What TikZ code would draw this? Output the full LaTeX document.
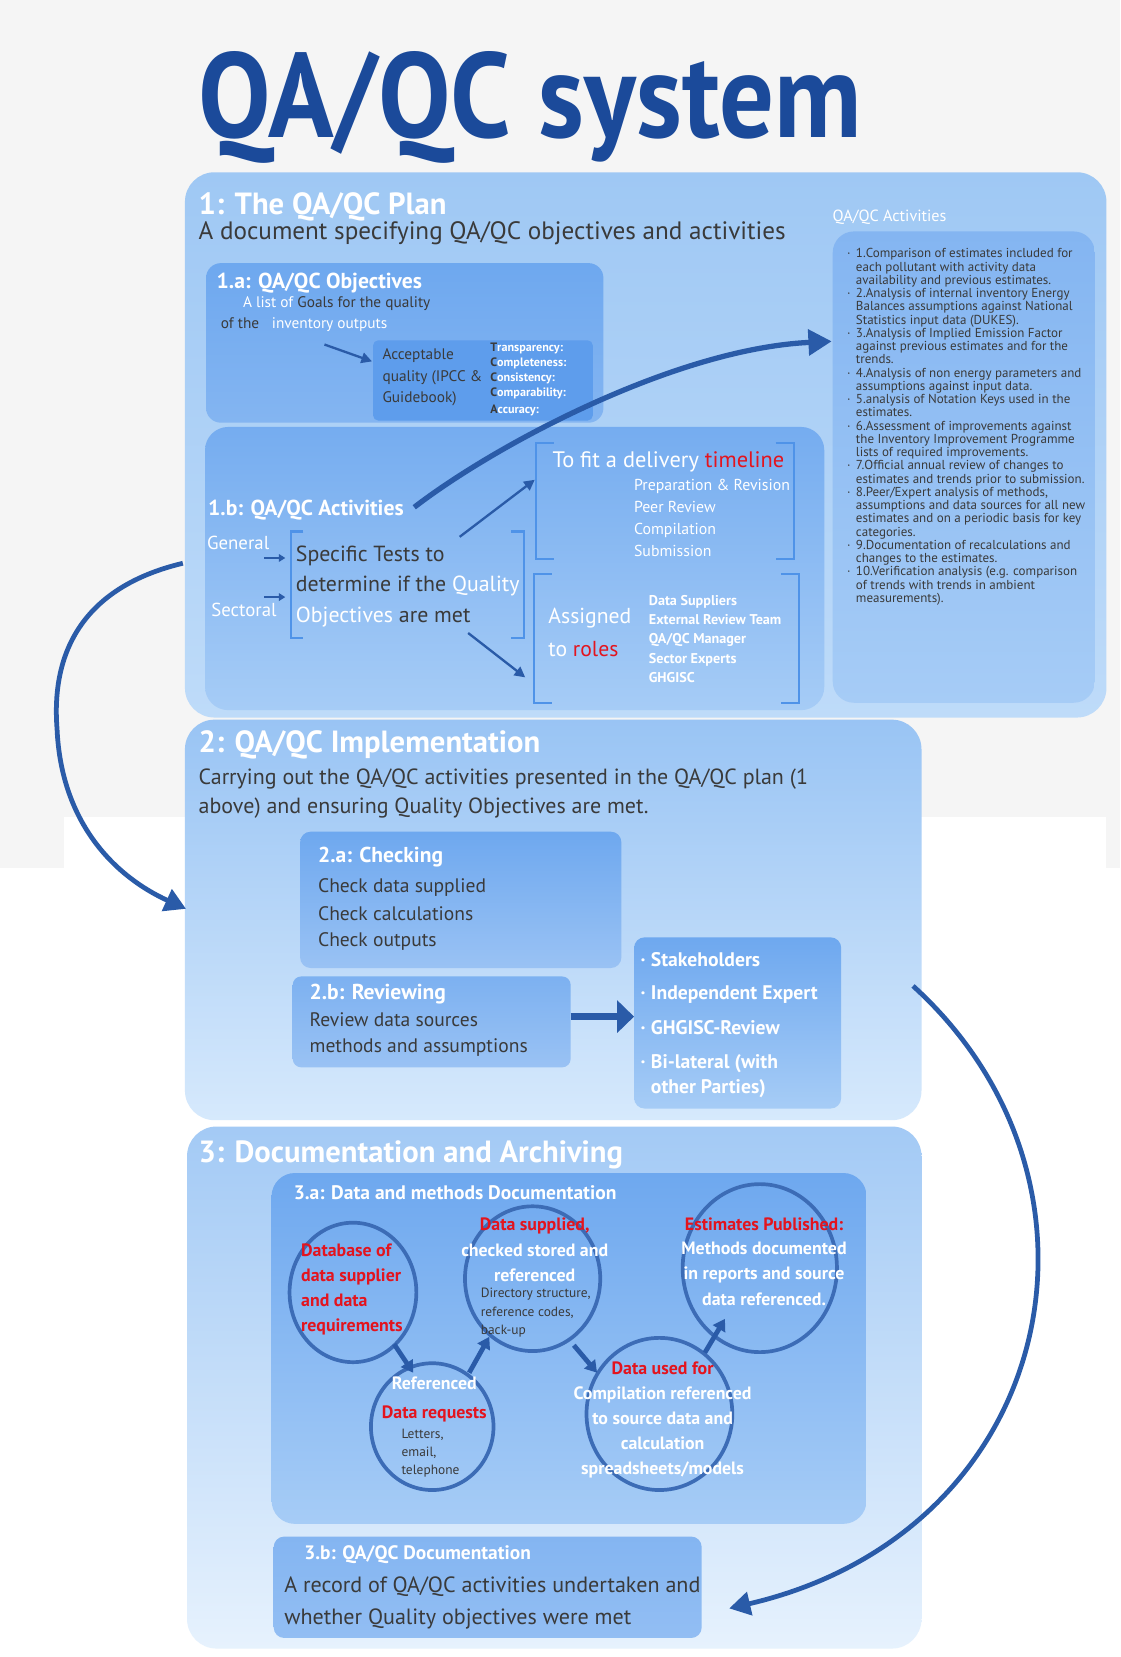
\documentclass[tikz,border=0pt]{standalone}
\usepackage{fontspec}
\setmainfont{PT Sans}
\newfontfamily\titlef{PT Sans}[FakeStretch=0.9]
\usetikzlibrary{arrows.meta,shapes.geometric,calc}
\newcommand\fsz[1]{\fontsize{#1}{#1}\selectfont}
\newcommand\bul{\makebox[0pt][r]{\textperiodcentered\hspace{5pt}}}
\definecolor{bggrey}{HTML}{F5F5F5}
\definecolor{ttl}{HTML}{1B4A9A}
\definecolor{dk}{HTML}{3A3A3A}
\definecolor{rd}{HTML}{E3141E}
\definecolor{arr}{HTML}{2A5BA8}
\definecolor{brkc}{HTML}{4F93E8}
\definecolor{circ}{HTML}{3C6CB6}
\definecolor{panA}{HTML}{9FC8F4}
\definecolor{panB}{HTML}{BEDBF9}
\definecolor{panC}{HTML}{99C4F4}
\definecolor{panD}{HTML}{D6E9FC}
\definecolor{boxA}{HTML}{6EA8EF}
\definecolor{boxB}{HTML}{A6CCF6}
\definecolor{innr}{HTML}{5E9DEC}
\begin{document}
\begin{tikzpicture}[x=1pt,y=-1pt,
  txt/.style={anchor=base west,inner sep=0pt,outer sep=0pt},
  ctx/.style={anchor=base,inner sep=0pt,outer sep=0pt},
  box/.style={rectangle,inner sep=0pt,outer sep=0pt,anchor=north west},
  wt/.style={text=white},
  dt/.style={text=dk},
  brk/.style={draw=brkc,line width=2pt},
  thinarr/.style={draw=arr,line width=2.2pt,-{Triangle[length=10pt,width=10pt]}},
  bigarr/.style={draw=arr,line width=4.5pt,-{Triangle[length=20pt,width=22pt]}},
  circarr/.style={draw=arr,line width=4.5pt,-{Triangle[length=11pt,width=13pt]}},
  ring/.style={ellipse,draw=circ,line width=3.5pt,inner sep=0pt}]
\useasboundingbox (0,0) rectangle (1060,1568);
\fill[white] (0,0) rectangle (1060,1568);
\fill[bggrey] (0,0) rectangle (1060,773);
\fill[bggrey] (0,773) rectangle (61,821);
\fill[bggrey] (1047,773) rectangle (1060,821);

% title
\node[txt,text=ttl] (title) at (188,130) {\titlef\bfseries\fsz{114}QA/QC system};

% panels
\node[box,minimum width=872pt,minimum height=516pt,rounded corners=28pt,top color=panA,bottom color=panB] (p1) at (175,163) {};
\node[box,minimum width=697pt,minimum height=379pt,rounded corners=28pt,top color=panC,bottom color=panD] (p2) at (175,681) {};
\node[box,minimum width=695pt,minimum height=494pt,rounded corners=28pt,top color=panC!90!white,bottom color=panD!60!white] (p3) at (177,1066) {};

% section 1
\node[txt,wt] (h1) at (188,203) {\bfseries\fsz{29}1: The QA/QC Plan};
\node[txt,dt] (s1) at (188,227) {\fsz{23.8}A document specifying QA/QC objectives and activities};
\node[txt,wt] (actlbl) at (788,210) {\fsz{15.3}QA/QC Activities};

\node[box,minimum width=376pt,minimum height=151pt,rounded corners=14pt,top color=boxA,bottom color=boxA!85!white] (b1a) at (195,249) {};
\node[box,minimum width=208pt,minimum height=76pt,rounded corners=5pt,fill=innr] (inner) at (353,322) {};
\node[box,minimum width=586pt,minimum height=268pt,rounded corners=22pt,top color=boxA!95!white,bottom color=boxB] (b1b) at (194,404) {};
\node[box,minimum width=248pt,minimum height=446pt,rounded corners=20pt,top color=boxA!85!white,bottom color=boxB] (act) at (788,219) {};

% 1.a content
\node[txt,wt] (h1a) at (205,273) {\bfseries\fsz{20.5}1.a: QA/QC Objectives};
\node[txt] (goal1) at (230,291) {\fsz{14.5}\textcolor{white}{A list of} \textcolor{dk}{Goals for the quality}};
\node[txt] (goal2) at (209,311) {\fsz{14.5}\textcolor{dk}{of the}\hspace{12pt}\textcolor{white}{inventory outputs}};
\node[txt,dt] (acc1) at (362,340) {\fsz{14.5}Acceptable};
\node[txt,dt] (acc2) at (362,361) {\fsz{14.5}quality (IPCC \&};
\node[txt,dt] (acc3) at (362,381) {\fsz{14.5}Guidebook)};
\node[txt,wt] (q1) at (464,333) {\bfseries\fsz{11.5}\textcolor{dk}{T}ransparency:};
\node[txt,wt] (q2) at (464,347) {\bfseries\fsz{11.5}\textcolor{dk}{C}ompleteness:};
\node[txt,wt] (q3) at (464,361) {\bfseries\fsz{11.5}\textcolor{dk}{C}onsistency:};
\node[txt,wt] (q4) at (464,375) {\bfseries\fsz{11.5}\textcolor{dk}{C}omparability:};
\node[txt,wt] (q5) at (464,391) {\bfseries\fsz{11.5}\textcolor{dk}{A}ccuracy:};
\coordinate (ga) at (307,326);
\coordinate (gb) at (352,342);
\draw[thinarr] (ga) -- (gb);

% 1.b content
\node[txt,wt] (h1b) at (197,488) {\bfseries\fsz{20.5}1.b: QA/QC Activities};
\node[txt,wt] (gen) at (196,520) {\fsz{17.8}General};
\node[txt,wt] (sec) at (200,583) {\fsz{17.8}Sectoral};
\coordinate (g1) at (250,528); \coordinate (g2) at (270,528);
\coordinate (s1a) at (250,565); \coordinate (s1b) at (270,565);
\draw[draw=arr,line width=1.8pt,-{Triangle[length=6pt,width=7pt]}] (g1) -- (g2);
\draw[draw=arr,line width=1.8pt,-{Triangle[length=6pt,width=7pt]}] (s1a) -- (s1b);
\draw[brk] (287,503) -- (275,503) -- (275,604) -- (287,604);
\draw[brk] (484,503) -- (496,503) -- (496,604) -- (484,604);
\node[txt,dt] (sp1) at (280,531) {\fsz{20.7}Specific Tests to};
\node[txt,dt] (sp2) at (280,560) {\fsz{20.7}determine if the \textcolor{white}{Quality}};
\node[txt,dt] (sp3) at (280,589) {\fsz{20.7}\textcolor{white}{Objectives} are met};
\draw[brk] (524,419) -- (507,419) -- (507,529) -- (524,529);
\draw[brk] (734,419) -- (751,419) -- (751,529) -- (734,529);
\draw[brk] (522,543) -- (505,543) -- (505,665) -- (522,665);
\draw[brk] (739,543) -- (756,543) -- (756,665) -- (739,665);
\node[txt,wt] (tl) at (523,442) {\fsz{21.2}To fit a delivery \textcolor{rd}{timeline}};
\node[txt,wt] (tl1) at (600,464) {\fsz{15}Preparation \& Revision};
\node[txt,wt] (tl2) at (600,485) {\fsz{15}Peer Review};
\node[txt,wt] (tl3) at (600,506) {\fsz{15}Compilation};
\node[txt,wt] (tl4) at (600,527) {\fsz{15}Submission};
\node[txt,wt] (as1) at (519,590) {\fsz{20.5}Assigned};
\node[txt,wt] (as2) at (519,621) {\fsz{20.5}to \textcolor{rd}{roles}};
\node[txt,wt] (r1) at (614,573) {\bfseries\fsz{13.4}Data Suppliers};
\node[txt,wt] (r2) at (614,591) {\bfseries\fsz{13.4}External Review Team};
\node[txt,wt] (r3) at (614,609) {\bfseries\fsz{13.4}QA/QC Manager};
\node[txt,wt] (r4) at (614,628) {\bfseries\fsz{13.4}Sector Experts};
\node[txt,wt] (r5) at (614,646) {\bfseries\fsz{13.4}GHGISC};
\coordinate (u1) at (435,508); \coordinate (u2) at (506,454);
\coordinate (d1) at (443,599); \coordinate (d2) at (497,641);
\draw[thinarr] (u1) -- (u2);
\draw[thinarr] (d1) -- (d2);

% activities list
\foreach \t [count=\i from 0] in {
 {\bul 1.Comparison of estimates included for},
 {each pollutant with activity data},
 {availability and previous estimates.},
 {\bul 2.Analysis of internal inventory Energy},
 {Balances assumptions against National},
 {Statistics input data (DUKES).},
 {\bul 3.Analysis of Implied Emission Factor},
 {against previous estimates and for the},
 {trends.},
 {\bul 4.Analysis of non energy parameters and},
 {assumptions against input data.},
 {\bul 5.analysis of Notation Keys used in the},
 {estimates.},
 {\bul 6.Assessment of improvements against},
 {the Inventory Improvement Programme},
 {lists of required improvements.},
 {\bul 7.Official annual review of changes to},
 {estimates and trends prior to submission.},
 {\bul 8.Peer/Expert analysis of methods,},
 {assumptions and data sources for all new},
 {estimates and on a periodic basis for key},
 {categories.},
 {\bul 9.Documentation of recalculations and},
 {changes to the estimates.},
 {\bul 10.Verification analysis (e.g. comparison},
 {of trends with trends in ambient},
 {measurements).}}
 \node[txt,dt] (al\i) at (810,244+12.54*\i) {\fsz{12.3}\t};

% section 2
\node[txt,wt] (h2) at (188,712) {\bfseries\fsz{29}2: QA/QC Implementation};
\node[txt,dt] (s2a) at (188,742) {\fsz{20.8}Carrying out the QA/QC activities presented in the QA/QC plan (1};
\node[txt,dt] (s2b) at (188,770) {\fsz{20.8}above) and ensuring Quality Objectives are met.};
\node[box,minimum width=304pt,minimum height=129pt,rounded corners=10pt,top color=boxA,bottom color=boxA!70!white] (b2a) at (284,787) {};
\node[box,minimum width=263pt,minimum height=86pt,rounded corners=8pt,top color=boxA!90!white,bottom color=boxA!70!white] (b2b) at (277,924) {};
\node[box,minimum width=196pt,minimum height=162pt,rounded corners=10pt,top color=boxA,bottom color=boxB] (stk) at (600,887) {};
\node[txt,wt] (h2a) at (301,816) {\bfseries\fsz{20.4}2.a: Checking};
\node[txt,dt] (c2a1) at (301,845) {\fsz{18.5}Check data supplied};
\node[txt,dt] (c2a2) at (301,871) {\fsz{18.5}Check calculations};
\node[txt,dt] (c2a3) at (301,896) {\fsz{18.5}Check outputs};
\node[txt,wt] (h2b) at (293,946) {\bfseries\fsz{20.4}2.b: Reviewing};
\node[txt,dt] (c2b1) at (293,971) {\fsz{18.5}Review data sources};
\node[txt,dt] (c2b2) at (293,996) {\fsz{18.5}methods and assumptions};
\node[txt,wt] (k1) at (616,915) {\bfseries\fsz{18.6}\bul Stakeholders};
\node[txt,wt] (k2) at (616,946) {\bfseries\fsz{18.6}\bul Independent Expert};
\node[txt,wt] (k3) at (616,979) {\bfseries\fsz{18.6}\bul GHGISC-Review};
\node[txt,wt] (k4) at (616,1011) {\bfseries\fsz{18.6}\bul Bi-lateral (with};
\node[txt,wt] (k5) at (616,1035) {\bfseries\fsz{18.6}other Parties)};
\draw[draw=arr,line width=7pt,-{Triangle[length=16pt,width=30pt]}] ([yshift=5pt]b2b.east) -- ([yshift=6pt]stk.west);

% section 3
\node[txt,wt] (h3) at (188,1100) {\bfseries\fsz{29}3: Documentation and Archiving};
\node[box,minimum width=563pt,minimum height=332pt,rounded corners=22pt,top color=boxA,bottom color=boxB] (b3a) at (257,1110) {};
\node[box,minimum width=405pt,minimum height=96pt,rounded corners=10pt,top color=boxA!85!white,bottom color=boxA!75!white] (b3b) at (259,1454) {};
\node[txt,wt] (h3a) at (278,1135) {\bfseries\fsz{18.5}3.a: Data and methods Documentation};
\node[txt,wt] (h3b) at (288,1476) {\bfseries\fsz{18.4}3.b: QA/QC Documentation};
\node[txt,dt] (r3b1) at (269,1507) {\fsz{20.9}A record of QA/QC activities undertaken and};
\node[txt,dt] (r3b2) at (269,1537) {\fsz{20.9}whether Quality objectives were met};

\node[ring,minimum width=120pt,minimum height=132pt] (c1) at (334,1223) {};
\node[ring,minimum width=116pt,minimum height=120pt] (c2) at (409,1350) {};
\node[ring,minimum width=128pt,minimum height=137pt] (c3) at (504,1210) {};
\node[ring,minimum width=138pt,minimum height=144pt] (c4) at (624,1338) {};
\node[ring,minimum width=146pt,minimum height=159pt] (c5) at (719,1200) {};

\coordinate (e1a) at (373,1272); \coordinate (e1b) at (391,1299);
\coordinate (e2a) at (444,1299); \coordinate (e2b) at (463,1265);
\coordinate (e3a) at (543,1273); \coordinate (e3b) at (565,1299);
\coordinate (e4a) at (667,1280); \coordinate (e4b) at (686,1248);
\draw[circarr] (e1a) -- (e1b);
\draw[circarr] (e2a) -- (e2b);
\draw[circarr] (e3a) -- (e3b);
\draw[circarr] (e4a) -- (e4b);

\node[txt,text=rd] (t11) at (285,1189) {\bfseries\fsz{16.9}Database of};
\node[txt,text=rd] (t12) at (285,1213) {\bfseries\fsz{16.9}data supplier};
\node[txt,text=rd] (t13) at (285,1236) {\bfseries\fsz{16.9}and data};
\node[txt,text=rd] (t14) at (285,1260) {\bfseries\fsz{16.9}requirements};

\node[ctx,text=rd] (t31) at (506,1164) {\bfseries\fsz{16.9}Data supplied,};
\node[ctx,wt] (t32) at (506,1189) {\bfseries\fsz{16.9}checked stored and};
\node[ctx,wt] (t33) at (506,1213) {\bfseries\fsz{16.9}referenced};
\node[txt,dt] (t34) at (455,1228) {\fsz{12.7}Directory structure,};
\node[txt,dt] (t35) at (455,1246) {\fsz{12.7}reference codes,};
\node[txt,dt] (t36) at (455,1263) {\fsz{12.7}back-up};

\node[ctx,wt] (t21) at (411,1315) {\bfseries\fsz{16.9}Referenced};
\node[ctx,text=rd] (t22) at (411,1342) {\bfseries\fsz{16.9}Data requests};
\node[txt,dt] (t23) at (380,1361) {\fsz{12.7}Letters,};
\node[txt,dt] (t24) at (380,1378) {\fsz{12.7}email,};
\node[txt,dt] (t25) at (380,1395) {\fsz{12.7}telephone};

\node[ctx,text=rd] (t41) at (627,1301) {\bfseries\fsz{16.9}Data used for};
\node[ctx,wt] (t42) at (627,1324) {\bfseries\fsz{16.9}Compilation referenced};
\node[ctx,wt] (t43) at (627,1348) {\bfseries\fsz{16.9}to source data and};
\node[ctx,wt] (t44) at (627,1372) {\bfseries\fsz{16.9}calculation};
\node[ctx,wt] (t45) at (627,1395) {\bfseries\fsz{16.9}spreadsheets/models};

\node[ctx,text=rd] (t51) at (723,1164) {\bfseries\fsz{16.9}Estimates Published:};
\node[ctx,wt] (t52) at (723,1187) {\bfseries\fsz{16.9}Methods documented};
\node[ctx,wt] (t53) at (723,1211) {\bfseries\fsz{16.9}in reports and source};
\node[ctx,wt] (t54) at (723,1235) {\bfseries\fsz{16.9}data referenced.};

% big arrows
\coordinate (A1s) at (392,480); \coordinate (A1e) at (787,323);
\draw[draw=arr,line width=5pt,-{Triangle[length=22pt,width=24pt]}] (A1s) .. controls (470,420) and (640,330) .. (A1e);
\coordinate (A2s) at (173,533); \coordinate (A2m) at (54,690); \coordinate (A2e) at (176,860);
\draw[bigarr] (A2s) .. controls (60,560) and (50,640) .. (A2m) .. controls (58,780) and (110,830) .. (A2e);
\coordinate (A3s) at (864,933); \coordinate (A3e) at (690,1522);
\draw[bigarr] (A3s) .. controls (1070,1120) and (1000,1450) .. (A3e);
\end{tikzpicture}
\end{document}
